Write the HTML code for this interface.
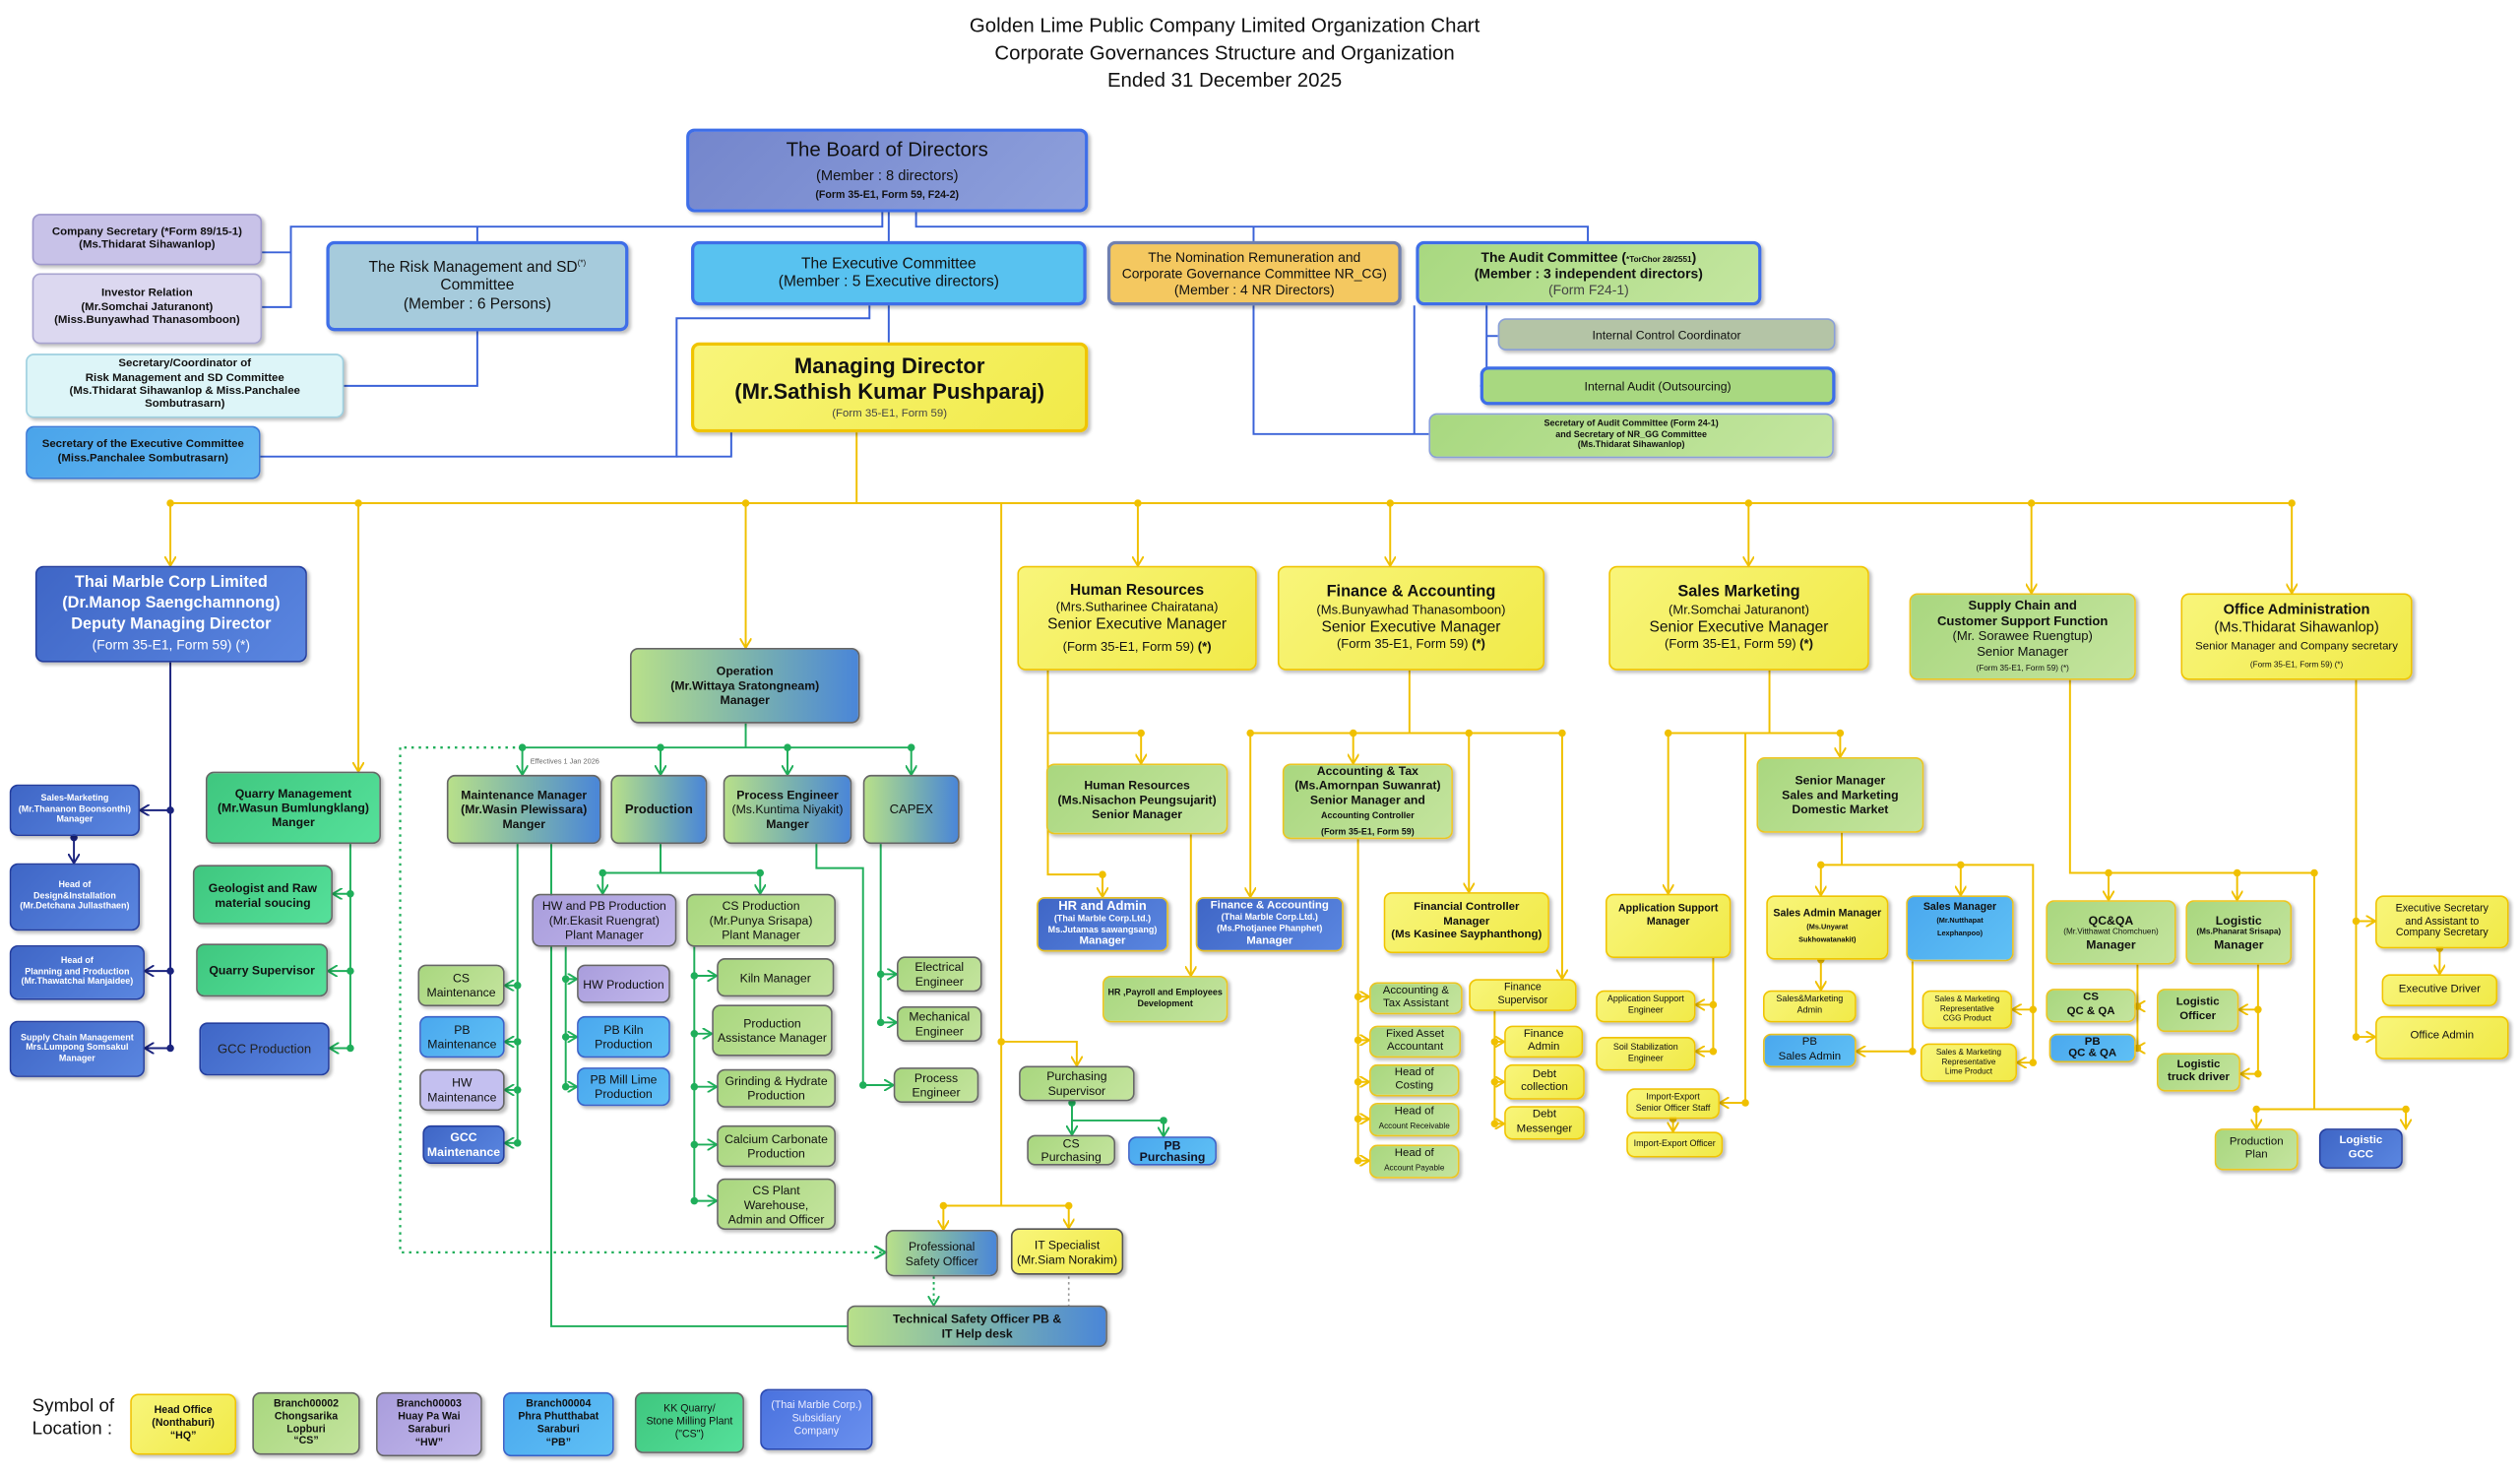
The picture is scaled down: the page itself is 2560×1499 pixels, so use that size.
<!DOCTYPE html>
<html><head><meta charset="utf-8">
<style>
html,body{margin:0;padding:0;background:#fff;width:2560px;height:1498px;overflow:hidden}
#c{position:absolute;left:0;top:0;width:1568px;height:918px;transform:scale(1.63265);transform-origin:0 0;font-family:"Liberation Sans",Arial,sans-serif;color:#111}
.b{position:absolute;box-sizing:border-box;border-radius:5px;border:1.3px solid #666;display:flex;align-items:center;justify-content:center;flex-direction:column;text-align:center;font-size:7.5px;line-height:1.2;box-shadow:1.5px 1.5px 2px rgba(0,0,0,.25);overflow:hidden}
.y{background:linear-gradient(135deg,#f8f57a,#f1ea48);border-color:#f0c400}
.g{background:linear-gradient(135deg,#a9d77f,#c4e49e);}
.gy{background:linear-gradient(135deg,#a9d77f,#c4e49e);border-color:#ecc520}
.bl{background:linear-gradient(135deg,#3f66c6,#5a86e0);border-color:#243e9e;color:#fff}
.lb{background:linear-gradient(135deg,#4aa8ee,#5fc0f5);border-color:#3a62c8}
.lv{background:linear-gradient(135deg,#a99ddc,#c2b8ec);}
.gr{background:linear-gradient(135deg,#3fc77f,#55e09a);}
.gd{background:linear-gradient(90deg,#b8e08a,#78b0b0 55%,#4a86d8);}
.bold{font-weight:bold}
.db{border:2px solid #3e6ee8}
</style></head><body><div id="c">
<div style="position:absolute;left:0;width:1524px;top:8px;text-align:center;font-size:12.5px;line-height:17px">Golden Lime Public Company Limited Organization Chart<br>Corporate Governances Structure and Organization<br>Ended 31 December 2025</div>

<svg width="1568" height="918" style="position:absolute;left:0;top:0" fill="none">
<defs>
<marker id="ay" markerWidth="6" markerHeight="6" refX="5" refY="3" orient="auto"><path d="M0,0 L5,3 L0,6" stroke="#f0c000" stroke-width="1" fill="none"/></marker>
<marker id="ag" markerWidth="6" markerHeight="6" refX="5" refY="3" orient="auto"><path d="M0,0 L5,3 L0,6" stroke="#1fae5a" stroke-width="1" fill="none"/></marker>
<marker id="an" markerWidth="6" markerHeight="6" refX="5" refY="3" orient="auto"><path d="M0,0 L5,3 L0,6" stroke="#1a237e" stroke-width="1" fill="none"/></marker>
</defs>
<g stroke="#3a62d8" stroke-width="1.2">
<polyline points="549,132 549,141 181,141 181,191 163,191"/><line x1="181" y1="157" x2="163" y2="157"/>
<line x1="297" y1="141" x2="297" y2="150"/>
<line x1="553" y1="132" x2="553" y2="150"/>
<polyline points="570,132 570,141 988,141 988,150"/><line x1="780" y1="141" x2="780" y2="150"/>
<polyline points="297,206 297,240 214,240"/>
<line x1="553" y1="190" x2="553" y2="213"/>
<polyline points="541,190 541,198 421,198 421,284 162,284"/><polyline points="455,269 455,284 421,284"/>
<polyline points="780,190 780,270 889,270"/><line x1="880" y1="190" x2="880" y2="270"/>
<polyline points="925,190 925,240 921,240"/><line x1="925" y1="209" x2="932" y2="209"/>
</g>
<g stroke="#f0c000" stroke-width="1.2" marker-end="url(#ay)">
<line x1="533" y1="269" x2="533" y2="313" marker-end="none"/>
<line x1="106" y1="313" x2="1426" y2="313" marker-end="none"/>
<line x1="106" y1="313" x2="106" y2="352"/><line x1="223" y1="313" x2="223" y2="480"/>
<line x1="464" y1="313" x2="464" y2="403"/><line x1="623" y1="313" x2="623" y2="750" marker-end="none"/>
<line x1="708" y1="313" x2="708" y2="352"/><line x1="865" y1="313" x2="865" y2="352"/>
<line x1="1088" y1="313" x2="1088" y2="352"/><line x1="1264" y1="313" x2="1264" y2="369"/>
<line x1="1426" y1="313" x2="1426" y2="369"/>
<polyline points="623,648 670,648 670,663"/>
<line x1="587" y1="750" x2="665" y2="750" marker-end="none"/><line x1="587" y1="750" x2="587" y2="765"/><line x1="665" y1="750" x2="665" y2="764"/>
<polyline points="652,417 652,544 686,544 686,558"/><polyline points="652,456 710,456 710,475"/><line x1="741" y1="519" x2="741" y2="607"/>
<line x1="877" y1="417" x2="877" y2="456" marker-end="none"/><line x1="778" y1="456" x2="972" y2="456" marker-end="none"/>
<line x1="778" y1="456" x2="778" y2="558"/><line x1="842" y1="456" x2="842" y2="475"/><line x1="914" y1="456" x2="914" y2="555"/><line x1="972" y1="456" x2="972" y2="609"/>
<line x1="845" y1="522" x2="845" y2="722" marker-end="none"/>
<line x1="845" y1="620" x2="852" y2="620"/><line x1="845" y1="647" x2="852" y2="647"/><line x1="845" y1="673" x2="852" y2="673"/><line x1="845" y1="696" x2="852" y2="696"/><line x1="845" y1="722" x2="852" y2="722"/>
<line x1="930" y1="629" x2="930" y2="699" marker-end="none"/>
<line x1="930" y1="648" x2="936" y2="648"/><line x1="930" y1="673" x2="936" y2="673"/><line x1="930" y1="699" x2="936" y2="699"/>
<line x1="1101" y1="417" x2="1101" y2="456" marker-end="none"/><line x1="1038" y1="456" x2="1145" y2="456" marker-end="none"/>
<line x1="1038" y1="456" x2="1038" y2="556"/><line x1="1145" y1="456" x2="1145" y2="471"/>
<polyline points="1086,456 1086,686 1070,686"/><line x1="1041" y1="696" x2="1041" y2="704"/>
<polyline points="1066,596 1066,654 1055,654"/><line x1="1066" y1="625" x2="1055" y2="625"/>
<line x1="1146" y1="518" x2="1146" y2="538" marker-end="none"/><polyline points="1133,538 1265,538 1265,661 1255,661" marker-end="url(#ay)"/>
<line x1="1133" y1="538" x2="1133" y2="557"/><line x1="1220" y1="538" x2="1220" y2="557"/><line x1="1265" y1="628" x2="1252" y2="628"/>
<line x1="1133" y1="597" x2="1133" y2="616"/><polyline points="1190,598 1190,654 1155,654"/>
<polyline points="1288,423 1288,543 1440,543 1440,690" marker-end="none"/>
<line x1="1312" y1="543" x2="1312" y2="560"/><line x1="1392" y1="543" x2="1392" y2="560"/>
<polyline points="1330,600 1330,652 1329,652"/><line x1="1330" y1="626" x2="1329" y2="626"/>
<polyline points="1405,600 1405,668 1394,668"/><line x1="1405" y1="628" x2="1393" y2="628"/>
<line x1="1404" y1="690" x2="1497" y2="690" marker-end="none"/><line x1="1404" y1="690" x2="1404" y2="702"/><line x1="1497" y1="690" x2="1497" y2="702"/>
<polyline points="1466,423 1466,645 1478,645"/><line x1="1466" y1="573" x2="1478" y2="573"/><line x1="1518" y1="590" x2="1518" y2="606"/>
</g>
<g fill="#f0c000">
<circle cx="106" cy="313" r="2.3"/><circle cx="223" cy="313" r="2.3"/><circle cx="464" cy="313" r="2.3"/><circle cx="708" cy="313" r="2.3"/><circle cx="865" cy="313" r="2.3"/><circle cx="1088" cy="313" r="2.3"/><circle cx="1264" cy="313" r="2.3"/><circle cx="1426" cy="313" r="2.3"/>
<circle cx="623" cy="648" r="2.3"/><circle cx="587" cy="750" r="2.3"/><circle cx="665" cy="750" r="2.3"/>
<circle cx="710" cy="456" r="2.3"/><circle cx="686" cy="544" r="2.3"/>
<circle cx="778" cy="456" r="2.3"/><circle cx="842" cy="456" r="2.3"/><circle cx="914" cy="456" r="2.3"/><circle cx="972" cy="456" r="2.3"/>
<circle cx="845" cy="620" r="2.3"/><circle cx="845" cy="647" r="2.3"/><circle cx="845" cy="673" r="2.3"/><circle cx="845" cy="696" r="2.3"/><circle cx="845" cy="722" r="2.3"/>
<circle cx="930" cy="648" r="2.3"/><circle cx="930" cy="673" r="2.3"/><circle cx="930" cy="699" r="2.3"/>
<circle cx="1038" cy="456" r="2.3"/><circle cx="1145" cy="456" r="2.3"/><circle cx="1086" cy="686" r="2.3"/><circle cx="1066" cy="625" r="2.3"/><circle cx="1066" cy="654" r="2.3"/><circle cx="1041" cy="696" r="2.3"/>
<circle cx="1133" cy="538" r="2.3"/><circle cx="1220" cy="538" r="2.3"/><circle cx="1265" cy="628" r="2.3"/><circle cx="1265" cy="661" r="2.3"/><circle cx="1133" cy="597" r="2.3"/><circle cx="1190" cy="654" r="2.3"/>
<circle cx="1312" cy="543" r="2.3"/><circle cx="1392" cy="543" r="2.3"/><circle cx="1440" cy="543" r="2.3"/><circle cx="1330" cy="626" r="2.3"/><circle cx="1330" cy="652" r="2.3"/><circle cx="1405" cy="628" r="2.3"/><circle cx="1405" cy="668" r="2.3"/>
<circle cx="1404" cy="690" r="2.3"/><circle cx="1497" cy="690" r="2.3"/><circle cx="1466" cy="573" r="2.3"/><circle cx="1466" cy="645" r="2.3"/><circle cx="1518" cy="590" r="2.3"/>
</g>
<g stroke="#1a237e" stroke-width="1.2" marker-end="url(#an)">
<line x1="106" y1="412" x2="106" y2="652" marker-end="none"/>
<line x1="106" y1="504" x2="87" y2="504"/><line x1="106" y1="604" x2="90" y2="604"/><line x1="106" y1="652" x2="90" y2="652"/><line x1="46" y1="520" x2="46" y2="537"/>
</g>
<g fill="#1a237e"><circle cx="106" cy="504" r="2.3"/><circle cx="106" cy="604" r="2.3"/><circle cx="106" cy="652" r="2.3"/><circle cx="46" cy="521" r="2.3"/></g>
<g stroke="#1fae5a" stroke-width="1.2" marker-end="url(#ag)">
<line x1="218" y1="525" x2="218" y2="652" marker-end="none"/>
<line x1="218" y1="556" x2="207" y2="556"/><line x1="218" y1="604" x2="204" y2="604"/><line x1="218" y1="652" x2="205" y2="652"/>
<line x1="464" y1="450" x2="464" y2="465" marker-end="none"/><line x1="325" y1="465" x2="567" y2="465" marker-end="none"/>
<line x1="325" y1="465" x2="325" y2="482"/><line x1="411" y1="465" x2="411" y2="482"/><line x1="490" y1="465" x2="490" y2="482"/><line x1="567" y1="465" x2="567" y2="482"/>
<line x1="322" y1="525" x2="322" y2="711" marker-end="none"/>
<line x1="322" y1="613" x2="314" y2="613"/><line x1="322" y1="648" x2="314" y2="648"/><line x1="322" y1="678" x2="314" y2="678"/><line x1="322" y1="711" x2="314" y2="711"/>
<polyline points="343,525 343,825 527,825" marker-end="none"/>
<line x1="411" y1="525" x2="411" y2="543" marker-end="none"/><line x1="375" y1="543" x2="473" y2="543" marker-end="none"/>
<line x1="375" y1="543" x2="375" y2="556"/><line x1="473" y1="543" x2="473" y2="556"/>
<line x1="352" y1="589" x2="352" y2="676" marker-end="none"/>
<line x1="352" y1="609" x2="359" y2="609"/><line x1="352" y1="645" x2="359" y2="645"/><line x1="352" y1="676" x2="359" y2="676"/>
<line x1="432" y1="589" x2="432" y2="747" marker-end="none"/>
<line x1="432" y1="607" x2="446" y2="607"/><line x1="432" y1="643" x2="443" y2="643"/><line x1="432" y1="676" x2="446" y2="676"/><line x1="432" y1="712" x2="446" y2="712"/><line x1="432" y1="747" x2="446" y2="747"/>
<polyline points="508,525 508,540 537,540 537,675 556,675"/>
<line x1="548" y1="525" x2="548" y2="637" marker-end="none"/><line x1="548" y1="606" x2="558" y2="606"/><line x1="548" y1="636" x2="558" y2="636"/>
<line x1="667" y1="686" x2="667" y2="706"/><polyline points="667,697 724,697 724,707"/>
<polyline points="249,465 249,779 551,779" stroke-dasharray="1.5,3" stroke-width="1.4"/>
<line x1="325" y1="465" x2="249" y2="465" stroke-dasharray="1.5,3" stroke-width="1.4" marker-end="none"/>
<line x1="581" y1="794" x2="581" y2="812" stroke-dasharray="1.5,2"/>
</g>
<line x1="665" y1="794" x2="665" y2="812" stroke="#999" stroke-dasharray="1.5,2"/>
<g fill="#1fae5a"><circle cx="218" cy="556" r="2.3"/><circle cx="218" cy="604" r="2.3"/><circle cx="218" cy="652" r="2.3"/>
<circle cx="325" cy="465" r="2.3"/><circle cx="411" cy="465" r="2.3"/><circle cx="490" cy="465" r="2.3"/><circle cx="567" cy="465" r="2.3"/>
<circle cx="322" cy="613" r="2.3"/><circle cx="322" cy="648" r="2.3"/><circle cx="322" cy="678" r="2.3"/><circle cx="322" cy="711" r="2.3"/>
<circle cx="375" cy="543" r="2.3"/><circle cx="473" cy="543" r="2.3"/>
<circle cx="352" cy="609" r="2.3"/><circle cx="352" cy="645" r="2.3"/><circle cx="352" cy="676" r="2.3"/>
<circle cx="432" cy="607" r="2.3"/><circle cx="432" cy="643" r="2.3"/><circle cx="432" cy="676" r="2.3"/><circle cx="432" cy="712" r="2.3"/><circle cx="432" cy="747" r="2.3"/>
<circle cx="537" cy="675" r="2.3"/><circle cx="548" cy="606" r="2.3"/><circle cx="548" cy="636" r="2.3"/><circle cx="667" cy="686" r="2.3"/><circle cx="724" cy="697" r="2.3"/></g>
</svg>
<div style="position:absolute;left:330px;top:471px;font-size:4.5px;color:#666">Effectives 1 Jan 2026</div>

<div class="b db" style="left:427px;top:80px;width:250px;height:52px;background:linear-gradient(135deg,#7486cc,#8ea0dc);font-size:12.5px"><div>The Board of Directors</div><div style="font-size:9px;margin-top:3px">(Member : 8 directors)</div><div style="font-size:6.5px;font-weight:bold;margin-top:3px">(Form 35-E1, Form 59, F24-2)</div></div>
<div class="b bold" style="left:20px;top:133px;width:143px;height:32px;background:#c8c2e8;border-color:#9e98cc;font-size:7px">Company Secretary (*Form 89/15-1)<br>(Ms.Thidarat Sihawanlop)</div>
<div class="b bold" style="left:20px;top:170px;width:143px;height:44px;background:#dcd8f0;border-color:#a8a4d0;font-size:7px">Investor Relation<br>(Mr.Somchai Jaturanont)<br>(Miss.Bunyawhad Thanasomboon)</div>
<div class="b bold" style="left:16px;top:220px;width:198px;height:40px;background:#ddf5f8;border-color:#9ed0e0;font-size:7px">Secretary/Coordinator of<br>Risk Management and SD Committee<br>(Ms.Thidarat Sihawanlop &amp; Miss.Panchalee<br>Sombutrasarn)</div>
<div class="b bold" style="left:16px;top:265px;width:146px;height:33px;background:linear-gradient(135deg,#4aa4ea,#62b8f2);border-color:#3a7ad8;font-size:7px">Secretary of the Executive Committee<br>(Miss.Panchalee Sombutrasarn)</div>
<div class="b db" style="left:203px;top:150px;width:188px;height:56px;background:#a6cbdc;font-size:9.5px"><div>The Risk Management and SD<sup style="font-size:5px">(*)</sup><br>Committee<br>(Member : 6 Persons)</div></div>
<div class="b db" style="left:430px;top:150px;width:246px;height:40px;background:#58c2f0;font-size:9.5px">The Executive Committee<br>(Member : 5 Executive directors)</div>
<div class="b" style="left:689px;top:150px;width:183px;height:40px;background:#f4c860;border:2px solid #7080b0;font-size:8.5px">The Nomination Remuneration and<br>Corporate Governance Committee NR_CG)<br>(Member : 4 NR Directors)</div>
<div class="b db" style="left:881px;top:150px;width:215px;height:40px;background:linear-gradient(135deg,#a8d880,#c4e6a0);font-size:8.5px"><div><b>The Audit Committee (<span style="font-size:5px">*TorChor 28/2551</span>)<br>(Member : 3 independent directors)</b><br><span style="color:#444">(Form F24-1)</span></div></div>
<div class="b" style="left:932px;top:198px;width:210px;height:20px;background:#b4c4a6;border-color:#8aa0d8;font-size:7.5px">Internal Control Coordinator</div>
<div class="b db" style="left:921px;top:228px;width:221px;height:24px;background:#a8d880;font-size:7.5px">Internal Audit (Outsourcing)</div>
<div class="b bold" style="left:889px;top:257px;width:252px;height:28px;background:linear-gradient(135deg,#a8d880,#c4e6a0);border-color:#8aa0d8;font-size:5.5px">Secretary of Audit Committee (Form 24-1)<br>and Secretary of NR_GG Committee<br>(Ms.Thidarat Sihawanlop)</div>
<div class="b y" style="left:430px;top:213px;width:247px;height:56px;border-width:2px"><div style="font-size:13.5px;font-weight:bold;line-height:16px">Managing Director<br>(Mr.Sathish Kumar Pushparaj)</div><div style="font-size:7px;color:#444;margin-top:2px">(Form 35-E1, Form 59)</div></div>

<div class="b bl" style="left:22px;top:352px;width:169px;height:60px;font-size:10px;line-height:13px"><div><b>Thai Marble Corp Limited<br>(Dr.Manop Saengchamnong)<br>Deputy Managing Director</b><br><span style="font-size:8.5px">(Form 35-E1, Form 59) (*)</span></div></div>
<div class="b bl bold" style="left:6px;top:488px;width:81px;height:32px;font-size:5.5px">Sales-Marketing<br>(Mr.Thananon Boonsonthi)<br>Manager</div>
<div class="b bl bold" style="left:6px;top:537px;width:81px;height:42px;font-size:5.5px">Head of<br>Design&amp;Installation<br>(Mr.Detchana Jullasthaen)</div>
<div class="b bl bold" style="left:6px;top:588px;width:84px;height:34px;font-size:5.5px">Head of<br>Planning and Production<br>(Mr.Thawatchai Manjaidee)</div>
<div class="b bl bold" style="left:6px;top:635px;width:84px;height:35px;font-size:5.5px">Supply Chain Management<br>Mrs.Lumpong Somsakul<br>Manager</div>
<div class="b gr bold" style="left:128px;top:480px;width:109px;height:45px;font-size:7.5px">Quarry Management<br>(Mr.Wasun Bumlungklang)<br>Manger</div>
<div class="b gr bold" style="left:120px;top:538px;width:87px;height:37px;font-size:7.5px">Geologist and Raw<br>material soucing</div>
<div class="b gr bold" style="left:122px;top:587px;width:82px;height:33px;font-size:7.5px">Quarry Supervisor</div>
<div class="b bl" style="left:124px;top:636px;width:81px;height:33px;font-size:8px;color:#222">GCC Production</div>

<div class="b gd bold" style="left:392px;top:403px;width:143px;height:47px;font-size:7.5px">Operation<br>(Mr.Wittaya Sratongneam)<br>Manager</div>
<div class="b gd bold" style="left:278px;top:482px;width:96px;height:43px;font-size:7.5px">Maintenance Manager<br>(Mr.Wasin Plewissara)<br>Manger</div>
<div class="b gd bold" style="left:380px;top:482px;width:60px;height:43px;font-size:8px">Production</div>
<div class="b gd" style="left:450px;top:482px;width:80px;height:43px;font-size:7.5px"><div><b>Process Engineer</b><br>(Ms.Kuntima Niyakit)<br><b>Manger</b></div></div>
<div class="b gd" style="left:537px;top:482px;width:60px;height:43px;font-size:8px">CAPEX</div>
<div class="b g" style="left:260px;top:600px;width:54px;height:26px">CS<br>Maintenance</div>
<div class="b lb" style="left:261px;top:632px;width:53px;height:26px">PB<br>Maintenance</div>
<div class="b lv" style="left:261px;top:665px;width:53px;height:26px;background:#c4c0f0">HW<br>Maintenance</div>
<div class="b bl bold" style="left:263px;top:700px;width:51px;height:24px;font-size:7.5px">GCC<br>Maintenance</div>
<div class="b lv" style="left:331px;top:556px;width:90px;height:33px">HW and PB Production<br>(Mr.Ekasit Ruengrat)<br>Plant Manager</div>
<div class="b g" style="left:427px;top:556px;width:93px;height:33px">CS Production<br>(Mr.Punya Srisapa)<br>Plant Manager</div>
<div class="b lv" style="left:359px;top:600px;width:58px;height:24px">HW Production</div>
<div class="b lb" style="left:359px;top:632px;width:58px;height:26px">PB Kiln<br>Production</div>
<div class="b lb" style="left:359px;top:664px;width:58px;height:24px">PB Mill Lime<br>Production</div>
<div class="b g" style="left:446px;top:596px;width:73px;height:24px">Kiln Manager</div>
<div class="b g" style="left:443px;top:625px;width:75px;height:32px">Production<br>Assistance Manager</div>
<div class="b g" style="left:446px;top:665px;width:74px;height:24px">Grinding &amp; Hydrate<br>Production</div>
<div class="b g" style="left:446px;top:700px;width:74px;height:26px">Calcium Carbonate<br>Production</div>
<div class="b g" style="left:446px;top:733px;width:74px;height:32px">CS Plant<br>Warehouse,<br>Admin and Officer</div>
<div class="b g" style="left:558px;top:595px;width:53px;height:22px">Electrical<br>Engineer</div>
<div class="b g" style="left:558px;top:626px;width:53px;height:22px">Mechanical<br>Engineer</div>
<div class="b g" style="left:556px;top:664px;width:53px;height:22px">Process<br>Engineer</div>
<div class="b g" style="left:634px;top:663px;width:72px;height:22px">Purchasing<br>Supervisor</div>
<div class="b g" style="left:639px;top:706px;width:55px;height:19px;line-height:1">CS<br>Purchasing</div>
<div class="b lb bold" style="left:702px;top:707px;width:55px;height:18px;color:#112;line-height:1">PB<br>Purchasing</div>
<div class="b gd" style="left:551px;top:765px;width:70px;height:29px">Professional<br>Safety Officer</div>
<div class="b y" style="left:629px;top:764px;width:70px;height:29px;border-color:#555">IT Specialist<br>(Mr.Siam Norakim)</div>
<div class="b gd bold" style="left:527px;top:812px;width:162px;height:26px;font-size:7.5px">Technical Safety Officer PB &amp;<br>IT Help desk</div>

<div class="b y" style="left:633px;top:352px;width:149px;height:65px;font-size:8px"><div><b style="font-size:9.5px">Human Resources</b><br>(Mrs.Sutharinee Chairatana)<br><span style="font-size:9.5px">Senior Executive Manager</span><br><span style="display:inline-block;margin-top:4px">(Form 35-E1, Form 59) <b>(*)</b></span></div></div>
<div class="b y" style="left:795px;top:352px;width:166px;height:65px;font-size:8px"><div><b style="font-size:10px">Finance &amp; Accounting</b><br>(Ms.Bunyawhad Thanasomboon)<br><span style="font-size:9.5px">Senior Executive Manager</span><br>(Form 35-E1, Form 59) <b>(*)</b></div></div>
<div class="b y" style="left:1001px;top:352px;width:162px;height:65px;font-size:8px"><div><b style="font-size:10px">Sales Marketing</b><br>(Mr.Somchai Jaturanont)<br><span style="font-size:9.5px">Senior Executive Manager</span><br>(Form 35-E1, Form 59) <b>(*)</b></div></div>
<div class="b gy" style="left:1188px;top:369px;width:141px;height:54px;font-size:8px"><div><b>Supply Chain and<br>Customer Support Function</b><br>(Mr. Sorawee Ruengtup)<br>Senior Manager<br><span style="font-size:5px">(Form 35-E1, Form 59) (*)</span></div></div>
<div class="b y" style="left:1357px;top:369px;width:144px;height:54px;font-size:9px"><div><b>Office Administration</b><br>(Ms.Thidarat Sihawanlop)<br><span style="font-size:7px">Senior Manager and Company secretary</span><br><span style="font-size:5px">(Form 35-E1, Form 59) (*)</span></div></div>

<div class="b gy bold" style="left:651px;top:475px;width:113px;height:44px;font-size:7.5px">Human Resources<br>(Ms.Nisachon Peungsujarit)<br>Senior Manager</div>
<div class="b bl bold" style="left:645px;top:558px;width:82px;height:34px;border-color:#e8c020;font-size:5.5px"><div><span style="font-size:8px">HR and Admin</span><br>(Thai Marble Corp.Ltd.)<br>Ms.Jutamas sawangsang)<br><span style="font-size:7px">Manager</span></div></div>
<div class="b gy bold" style="left:686px;top:607px;width:78px;height:29px;font-size:5.5px">HR ,Payroll and Employees<br>Development</div>
<div class="b gy bold" style="left:798px;top:475px;width:106px;height:47px;font-size:7.5px"><div>Accounting &amp; Tax<br>(Ms.Amornpan Suwanrat)<br>Senior Manager and<br><span style="font-size:5.5px">Accounting Controller<br>(Form 35-E1, Form 59)</span></div></div>
<div class="b bl bold" style="left:744px;top:558px;width:92px;height:34px;border-color:#e8c020;font-size:5.5px"><div><span style="font-size:7px">Finance &amp; Accounting</span><br>(Thai Marble Corp.Ltd.)<br>(Ms.Photjanee Phanphet)<br><span style="font-size:7px">Manager</span></div></div>
<div class="b y bold" style="left:861px;top:555px;width:103px;height:38px;font-size:7px">Financial Controller<br>Manager<br>(Ms Kasinee Sayphanthong)</div>
<div class="b y" style="left:914px;top:609px;width:67px;height:20px;font-size:6.5px">Finance<br>Supervisor</div>
<div class="b gy" style="left:852px;top:611px;width:58px;height:20px;font-size:7px">Accounting &amp;<br>Tax Assistant</div>
<div class="b gy" style="left:852px;top:638px;width:57px;height:20px;font-size:7px">Fixed Asset<br>Accountant</div>
<div class="b gy" style="left:852px;top:662px;width:56px;height:20px;font-size:7px">Head of<br>Costing</div>
<div class="b gy" style="left:852px;top:686px;width:56px;height:21px;font-size:7px"><div>Head of<br><span style="font-size:5px">Account Receivable</span></div></div>
<div class="b gy" style="left:852px;top:712px;width:56px;height:21px;font-size:7px"><div>Head of<br><span style="font-size:5px">Account Payable</span></div></div>
<div class="b y" style="left:936px;top:638px;width:49px;height:20px;font-size:7px">Finance<br>Admin</div>
<div class="b y" style="left:936px;top:662px;width:50px;height:22px;font-size:7px">Debt<br>collection</div>
<div class="b y" style="left:936px;top:688px;width:50px;height:21px;font-size:7px">Debt<br>Messenger</div>

<div class="b gy bold" style="left:1093px;top:471px;width:104px;height:47px;font-size:7.5px">Senior Manager<br>Sales and Marketing<br>Domestic Market</div>
<div class="b y bold" style="left:999px;top:556px;width:78px;height:40px;font-size:6.5px;justify-content:flex-start;padding-top:5px">Application Support<br>Manager</div>
<div class="b y" style="left:993px;top:616px;width:62px;height:20px;font-size:5.5px">Application Support<br>Engineer</div>
<div class="b y" style="left:993px;top:645px;width:62px;height:21px;font-size:5.5px">Soil Stabilization<br>Engineer</div>
<div class="b y" style="left:1012px;top:677px;width:58px;height:19px;font-size:5.5px">Import-Export<br>Senior Officer Staff</div>
<div class="b y" style="left:1012px;top:704px;width:60px;height:16px;font-size:5.5px">Import-Export Officer</div>
<div class="b y bold" style="left:1099px;top:557px;width:76px;height:40px;font-size:6.5px"><div>Sales Admin Manager<br><span style="font-size:4.5px;line-height:8px">(Ms.Unyarat<br>Sukhowatanakit)</span></div></div>
<div class="b y" style="left:1097px;top:616px;width:58px;height:20px;font-size:5.5px">Sales&amp;Marketing<br>Admin</div>
<div class="b lb" style="left:1097px;top:643px;width:58px;height:21px;font-size:7px;border-color:#e8c020">PB<br>Sales Admin</div>
<div class="b lb bold" style="left:1186px;top:557px;width:67px;height:41px;font-size:6.5px;border-color:#e8c020;justify-content:flex-start;padding-top:3px"><div>Sales Manager<br><span style="font-size:4.5px;line-height:8px">(Mr.Nutthapat<br>Lexphanpoo)</span></div></div>
<div class="b y" style="left:1196px;top:616px;width:56px;height:24px;font-size:5px">Sales &amp; Marketing<br>Representative<br>CGG Product</div>
<div class="b y" style="left:1195px;top:649px;width:60px;height:24px;font-size:5px">Sales &amp; Marketing<br>Representative<br>Lime Product</div>

<div class="b gy" style="left:1273px;top:560px;width:81px;height:40px;font-size:5px"><div><b style="font-size:7.5px">QC&amp;QA</b><br>(Mr.Vitthawat Chomchuen)<br><b style="font-size:7.5px">Manager</b></div></div>
<div class="b gy" style="left:1360px;top:560px;width:66px;height:40px;font-size:5px"><div><b style="font-size:7.5px">Logistic</b><br><b>(Ms.Phanarat Srisapa)</b><br><b style="font-size:7.5px">Manager</b></div></div>
<div class="b gy bold" style="left:1273px;top:615px;width:56px;height:21px;font-size:7px">CS<br>QC &amp; QA</div>
<div class="b lb bold" style="left:1275px;top:643px;width:54px;height:18px;font-size:7px;border-color:#e8c020;line-height:1">PB<br>QC &amp; QA</div>
<div class="b gy bold" style="left:1342px;top:615px;width:51px;height:27px;font-size:7px">Logistic<br>Officer</div>
<div class="b gy bold" style="left:1342px;top:655px;width:52px;height:24px;font-size:7px">Logistic<br>truck driver</div>
<div class="b gy" style="left:1378px;top:702px;width:52px;height:26px;font-size:7px">Production<br>Plan</div>
<div class="b bl bold" style="left:1443px;top:702px;width:52px;height:25px;font-size:7px">Logistic<br>GCC</div>
<div class="b y" style="left:1478px;top:557px;width:83px;height:33px;font-size:6.5px">Executive Secretary<br>and Assistant to<br>Company Secretary</div>
<div class="b y" style="left:1482px;top:606px;width:72px;height:20px;font-size:7px">Executive Driver</div>
<div class="b y" style="left:1478px;top:632px;width:83px;height:27px;font-size:7px">Office Admin</div>

<div style="position:absolute;left:20px;top:868px;font-size:11.5px;line-height:14px">Symbol of<br>Location :</div>
<div class="b y bold" style="left:81px;top:867px;width:66px;height:38px;font-size:6.5px">Head Office<br>(Nonthaburi)<br>“HQ”</div>
<div class="b g bold" style="left:157px;top:866px;width:67px;height:39px;font-size:6.5px">Branch00002<br>Chongsarika<br>Lopburi<br>“CS”</div>
<div class="b lv bold" style="left:234px;top:866px;width:66px;height:40px;font-size:6.5px">Branch00003<br>Huay Pa Wai<br>Saraburi<br>“HW”</div>
<div class="b lb bold" style="left:313px;top:866px;width:69px;height:40px;font-size:6.5px">Branch00004<br>Phra Phutthabat<br>Saraburi<br>“PB”</div>
<div class="b gr" style="left:395px;top:866px;width:68px;height:38px;font-size:6.5px">KK Quarry/<br>Stone Milling Plant<br>("CS")</div>
<div class="b" style="left:473px;top:864px;width:70px;height:38px;font-size:6.5px;background:linear-gradient(135deg,#4a72de,#6a90ee);border-color:#2a48b0;color:#eef">(Thai Marble Corp.)<br>Subsidiary<br>Company</div>
</div></body></html>
